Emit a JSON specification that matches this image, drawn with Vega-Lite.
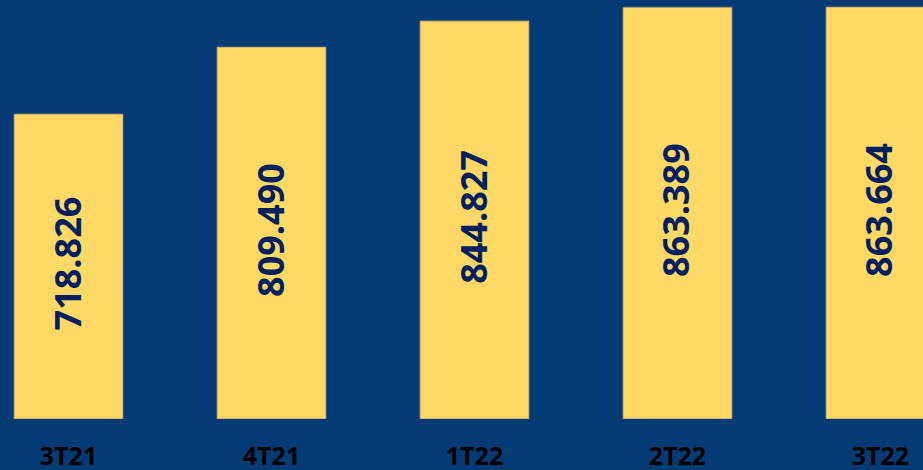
{
  "$schema": "https://vega.github.io/schema/vega-lite/v6.json",
  "width": 923,
  "height": 419,
  "autosize": {"type": "none"},
  "padding": {"left": 0, "top": 0, "right": 0, "bottom": 51},
  "background": "#053b75",
  "config": {"view": {"stroke": null}},
  "data": {"values": [
    {"period": "3T21", "value": 718826, "label": "718.826"},
    {"period": "4T21", "value": 809490, "label": "809.490"},
    {"period": "1T22", "value": 844827, "label": "844.827"},
    {"period": "2T22", "value": 863389, "label": "863.389"},
    {"period": "3T22", "value": 863664, "label": "863.664"}
  ]},
  "transform": [{"calculate": "(datum.value + 306100) / 2", "as": "mid"}],
  "encoding": {
    "x": {
      "field": "period", "type": "nominal", "sort": null,
      "scale": {"range": [0, 949], "paddingInner": 0.463, "paddingOuter": 0.069},
      "axis": {"title": null, "ticks": false, "domain": false, "labelAngle": 0,
        "labelFont": "Open Sans", "labelFontWeight": "bold", "labelFontSize": 25,
        "labelColor": "#000000", "labelPadding": 25, "labelBaseline": "top"}
    }
  },
  "layer": [
    {
      "mark": {"type": "bar", "color": "#FFD966", "stroke": "#8a8a7a", "strokeWidth": 0.8, "clip": true},
      "encoding": {
        "y": {"field": "value", "type": "quantitative",
          "scale": {"domain": [306100, 873100], "zero": false, "nice": false},
          "axis": null},
        "y2": {"datum": 306100}
      }
    },
    {
      "mark": {"type": "text", "angle": 270, "align": "center", "baseline": "middle",
        "font": "Open Sans", "fontWeight": "bold", "fontSize": 36, "color": "#002060", "dy": 1, "dx": 3},
      "encoding": {
        "y": {"field": "mid", "type": "quantitative"},
        "text": {"field": "label"}
      }
    }
  ]
}
